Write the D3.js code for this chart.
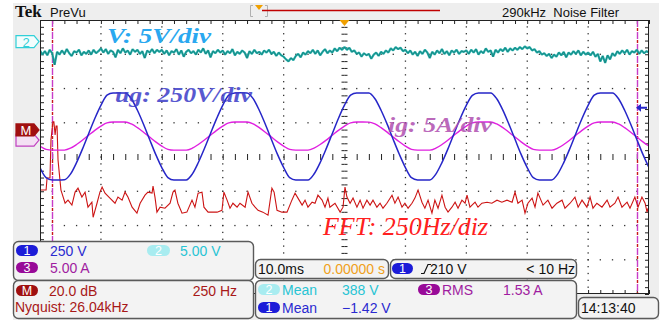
<!DOCTYPE html>
<html><head><meta charset="utf-8">
<script src="https://cdn.jsdelivr.net/npm/d3@7"></script>
<style>
html,body{margin:0;padding:0;background:#fff;}
svg{display:block;}
</style></head><body>
<svg id="scope" width="669" height="323"></svg>
<script>
// ---- acquisition settings ----
const timePerDivMs = 10;
const fftHzPerDiv = 250;
const ch1VoltsPerDiv = 250, ch2VoltsPerDiv = 5, ch3AmpsPerDiv = 5, mathDbPerDiv = 20;
const ch1Position = 0.6, ch2Position = 3.37, ch3Position = 0.61, mathPosition = 0.79; // divisions above centre
const ch1TriggerLevel = 210; // V
const sampleMs = 1;        // ch1 / ch3 record spacing
const ch2SampleMs = 0.4;   // ch2 record spacing

// ch1 grid voltage ug (V), one sample per ms
const ch1Volts = [
  -227,-301,-318,-318,-316,-275,-191,-89,22,131,227,301,318,318,318,275,191,89,-22,-131,
  -227,-300,-318,-318,-318,-275,-190,-88,22,130,227,301,318,319,318,276,191,89,-22,-131,
  -226,-301,-318,-318,-318,-274,-191,-89,21,131,228,301,318,318,317,275,191,90,-22,-130,
  -227,-301,-317,-318,-318,-275,-191,-89,22,131,227,300,318,318,318,275,192,89,-21,-131,
  -227,-301,-318,-318,-318,-275,-191,-89,22,131,227,301,318,318,318,275,191,89,-22,-131,
  -227
];
// ch3 grid current ig (A), one sample per ms
const ch3Amps = [
  -1.46,-1.94,-2.05,-2.05,-2.04,-1.77,-1.23,-0.57,0.14,0.84,1.46,1.94,2.05,2.05,2.05,1.77,1.23,0.57,-0.14,-0.84,
  -1.46,-1.93,-2.05,-2.05,-2.05,-1.77,-1.22,-0.57,0.14,0.84,1.46,1.94,2.05,2.06,2.05,1.78,1.23,0.57,-0.14,-0.84,
  -1.45,-1.94,-2.05,-2.05,-2.05,-1.76,-1.23,-0.58,0.13,0.84,1.47,1.94,2.05,2.05,2.04,1.77,1.23,0.58,-0.14,-0.83,
  -1.46,-1.94,-2.04,-2.05,-2.05,-1.77,-1.23,-0.57,0.14,0.84,1.46,1.93,2.05,2.05,2.05,1.77,1.24,0.57,-0.13,-0.84,
  -1.46,-1.94,-2.05,-2.05,-2.05,-1.77,-1.23,-0.57,0.14,0.84,1.46,1.94,2.05,2.05,2.05,1.77,1.23,0.57,-0.14,-0.84,
  -1.46
];
// ch2 voltage V (V), one sample per 0.4 ms
const ch2Volts = [
  -1.3,-1.9,-1.4,-2.0,-1.2,-1.7,-3.4,-1.5,-1.9,-1.3,-1.8,-1.1,-1.7,-2.1,-1.4,-1.6,-1.2,-2.0,-1.5,-1.8,-1.3,-1.9,-1.2,-1.7,-1.4,
  -1.0,-1.6,-1.1,-1.8,-1.3,-1.5,-2.3,-1.2,-1.7,-1.0,-1.6,-1.3,-1.9,-1.1,-1.5,-1.2,-1.8,-1.4,-2.4,-1.3,-1.6,-1.1,-1.7,-1.2,-1.5,
  -1.2,-1.8,-1.3,-2.0,-1.4,-1.6,-1.1,-1.9,-1.3,-2.2,-1.5,-1.2,-1.7,-1.4,-1.9,-1.2,-1.6,-1.0,-1.8,-1.3,-2.3,-1.4,-1.7,-1.2,-1.6,
  -1.3,-1.9,-1.4,-1.7,-1.1,-2.0,-1.5,-1.8,-1.3,-1.6,-2.4,-1.4,-1.8,-1.2,-1.7,-1.5,-1.9,-1.3,-1.6,-1.2,-1.8,-1.5,-2.1,-1.6,-2.0,
  -2.2,-2.6,-2.9,-2.4,-2.7,-2.1,-1.8,-2.3,-1.6,-1.9,-1.4,-1.7,-1.2,-1.8,-1.3,-2.0,-1.5,-1.1,-1.7,-1.3,-1.6,-1.0,-1.4,-0.9,-1.2,
  -0.8,-1.2,-0.9,-1.5,-1.3,-1.8,-1.6,-2.2,-1.7,-2.0,-1.8,-2.5,-1.9,-1.6,-2.1,-1.5,-1.8,-1.3,-1.6,-1.0,-1.3,-0.8,-1.1,-0.9,-1.4,
  -1.2,-1.7,-1.3,-1.9,-1.5,-2.1,-1.4,-1.8,-1.2,-1.6,-2.4,-1.5,-1.9,-1.3,-1.7,-1.1,-1.8,-1.4,-2.0,-1.3,-1.6,-1.2,-1.8,-1.4,-1.5,
  -1.3,-1.8,-1.2,-1.6,-1.1,-1.9,-1.4,-1.7,-1.0,-1.5,-1.3,-2.2,-1.2,-1.6,-1.1,-1.4,-0.9,-1.5,-1.0,-1.3,-0.9,-1.2,-0.8,-1.1,-0.7,
  -1.0,-0.8,-1.3,-1.1,-1.6,-1.4,-1.9,-1.7,-2.1,-1.8,-2.4,-1.9,-2.2,-1.6,-2.0,-1.5,-2.3,-1.6,-1.9,-1.4,-1.8,-1.3,-2.0,-1.5,-1.9,
  -1.6,-2.0,-1.5,-2.2,-1.8,-2.9,-2.1,-3.1,-2.0,-2.6,-1.7,-2.1,-1.4,-1.8,-1.3,-1.7,-1.2,-1.9,-1.4,-1.6,-1.2,-1.8,-1.3,-1.7,-1.4,-1.6
];
// math FFT of ig: frequency (Hz) and level (dB)
const fftHz = [4,25,29,41,45,53,57,62,66,70,74,82,86,90,103,115,131,144,156,172,185,197,213,218,234,246,255,267,287,308,320,337,349,361,378,398,411,431,443,460,464,472,480,493,513,534,546,554,566,583,603,624,636,649,665,673,690,727,747,755,768,780,792,809,821,842,854,870,883,895,915,936,952,961,973,993,1014,1034,1047,1059,1076,1088,1100,1117,1129,1141,1158,1170,1182,1190,1211,1232,1244,1252,1260,1273,1285,1301,1314,1326,1342,1355,1367,1383,1396,1408,1424,1445,1457,1470,1486,1498,1511,1527,1539,1552,1568,1580,1593,1609,1621,1634,1650,1663,1675,1691,1704,1716,1732,1745,1753,1765,1786,1798,1814,1835,1855,1876,1896,1917,1938,1950,1962,1979,1991,2003,2020,2032,2044,2065,2085,2102,2122,2143,2155,2176,2196,2209,2225,2245,2258,2270,2286,2307,2328,2340,2360,2373,2389,2410,2422,2442,2455,2471,2484,2492,2496];
const fftDb = [-35.1,-35.1,-28.1,-28.1,-5.9,4.7,4.7,-2.9,2.3,2.3,-17.6,-29.3,-35.1,-36.9,-42.8,-41.0,-43.9,-36.3,-34.0,-39.2,-36.3,-45.1,-42.2,-51.0,-42.8,-36.3,-33.4,-36.9,-39.8,-42.8,-39.2,-41.0,-36.3,-39.2,-45.1,-48.6,-42.8,-38.1,-36.3,-36.9,-32.8,-39.2,-48.0,-45.1,-45.7,-42.8,-36.3,-35.1,-42.8,-48.6,-48.0,-41.0,-45.1,-36.9,-36.3,-45.1,-48.0,-48.0,-46.9,-36.3,-41.0,-45.7,-42.8,-45.1,-42.8,-45.1,-36.3,-42.8,-45.1,-46.9,-48.0,-49.8,-34.0,-36.3,-46.9,-48.0,-48.0,-41.0,-36.9,-39.8,-43.9,-41.0,-45.1,-42.2,-42.8,-38.1,-41.0,-45.1,-39.8,-45.1,-42.8,-48.0,-45.1,-33.4,-39.2,-42.8,-39.8,-45.1,-41.0,-45.7,-41.0,-43.9,-41.0,-45.1,-42.8,-45.7,-42.8,-38.1,-42.8,-39.2,-45.1,-42.8,-45.7,-42.8,-39.8,-35.1,-42.2,-45.7,-41.0,-48.6,-41.0,-45.7,-38.1,-45.1,-48.0,-45.1,-42.2,-45.7,-41.0,-42.8,-38.1,-45.1,-42.2,-45.1,-42.8,-42.2,-42.8,-41.0,-42.2,-41.0,-42.2,-36.3,-42.8,-41.0,-48.6,-42.8,-39.8,-45.1,-36.9,-43.9,-41.0,-45.7,-42.8,-41.0,-45.7,-42.8,-39.2,-45.1,-41.0,-45.1,-39.2,-45.7,-42.8,-45.1,-41.0,-45.1,-42.8,-39.2,-45.1,-42.2,-45.7,-39.2,-45.1,-39.2,-42.8,-48.0,-45.7];
// cursor positions (Hz)
const cursorHz = [50, 2450];

// ---- layout ----
const svg = d3.select("#scope");
const G = {x0: 40, x1: 649, y0: 20, y1: 294};
const xDiv = d3.scaleLinear().domain([0, 10]).range([G.x0, G.x1]);
const yDiv = d3.scaleLinear().domain([-4, 4]).range([G.y1, G.y0]);
const xTime = d3.scaleLinear().domain([0, 10 * timePerDivMs]).range([G.x0, G.x1]);
const xFreq = d3.scaleLinear().domain([0, 10 * fftHzPerDiv]).range([G.x0, G.x1]);

const NARROW = "'Liberation Sans Narrow','Arial Narrow','Liberation Sans',sans-serif";

// instrument panel
svg.append("rect").attr("x", 13).attr("y", 3).attr("width", 646).attr("height", 317).attr("fill", "#eeeeee");

// top status bar
svg.append("text").attr("x", 15).attr("y", 17).attr("font-family", "'Liberation Serif',serif")
  .attr("font-weight", "bold").attr("font-size", 17).attr("fill", "#111").text("Tek");
svg.append("text").attr("x", 50).attr("y", 17).attr("font-family", NARROW)
  .attr("font-size", 13).attr("fill", "#111").text("PreVu");
svg.append("path").attr("d", "M253,5.5 H250.5 V16.5 H253 M265,5.5 H267.5 V16.5 H265")
  .attr("fill", "none").attr("stroke", "#b0b0b0").attr("stroke-width", 1);
svg.append("line").attr("x1", 262).attr("x2", 440).attr("y1", 10.5).attr("y2", 10.5)
  .attr("stroke", "#c00000").attr("stroke-width", 1.5);
svg.append("path").attr("d", "M255,5 L263,5 L259,10 Z").attr("fill", "#f0a000");
svg.append("text").attr("x", 502).attr("y", 17).attr("font-family", NARROW)
  .attr("font-size", 13).attr("fill", "#111").attr("xml:space", "preserve").text("290kHz  Noise Filter");

// graticule
const grat = svg.append("g");
grat.append("rect").attr("x", G.x0).attr("y", G.y0).attr("width", G.x1 - G.x0).attr("height", G.y1 - G.y0)
  .attr("fill", "#ffffff");
const minorX = d3.range(0, 10.001, 0.2), minorY = d3.range(-4, 4.001, 0.2);
const dotColor = "#333";
// dotted major lines
for (let i = 1; i < 10; i++) {
  if (i === 5) continue;
  grat.append("g").selectAll("rect").data(minorY.slice(1, -1)).join("rect")
    .attr("x", xDiv(i) - 0.6).attr("y", d => yDiv(d) - 0.6).attr("width", 1.3).attr("height", 1.3).attr("fill", dotColor);
}
for (let j = -3; j <= 3; j++) {
  if (j === 0) continue;
  grat.append("g").selectAll("rect").data(minorX.slice(1, -1)).join("rect")
    .attr("x", d => xDiv(d) - 0.6).attr("y", yDiv(j) - 0.6).attr("width", 1.3).attr("height", 1.3).attr("fill", dotColor);
}
// edge and centre ticks via axes
function ticksAxis(axis, tx, ty, vals, size) {
  const g = grat.append("g").attr("transform", `translate(${tx},${ty})`)
    .call(axis.tickValues(vals).tickSize(size).tickFormat(""));
  g.select(".domain").remove();
  g.selectAll("line").attr("stroke", "#222");
}
ticksAxis(d3.axisBottom(xDiv), 0, G.y0, minorX, 4);
ticksAxis(d3.axisTop(xDiv), 0, G.y1, minorX, 4);
ticksAxis(d3.axisRight(yDiv), G.x0, 0, minorY, 4);
ticksAxis(d3.axisLeft(yDiv), G.x1, 0, minorY, 4);
ticksAxis(d3.axisBottom(xDiv), 0, yDiv(0), minorX, 3);
ticksAxis(d3.axisTop(xDiv), 0, yDiv(0), minorX, 3);
ticksAxis(d3.axisRight(yDiv), xDiv(5), 0, minorY, 3);
ticksAxis(d3.axisLeft(yDiv), xDiv(5), 0, minorY, 3);
grat.append("rect").attr("x", G.x0 + 0.5).attr("y", G.y0 + 0.5).attr("width", G.x1 - G.x0 - 1).attr("height", G.y1 - G.y0 - 1)
  .attr("fill", "none").attr("stroke", "#222").attr("stroke-width", 1);

// clip for waveforms
svg.append("defs").append("clipPath").attr("id", "gclip").append("rect")
  .attr("x", G.x0 + 1).attr("y", G.y0 + 1).attr("width", G.x1 - G.x0 - 2).attr("height", G.y1 - G.y0 - 2);
const wave = svg.append("g").attr("clip-path", "url(#gclip)");

// FFT cursors
cursorHz.forEach(hz => {
  const x = Math.round(xFreq(hz)) + 0.5;
  wave.append("line").attr("x1", x).attr("x2", x).attr("y1", G.y0).attr("y2", G.y1)
    .attr("stroke", "#c83cc8").attr("stroke-width", 1.4).attr("stroke-dasharray", "7 5");
  wave.append("line").attr("x1", x).attr("x2", x).attr("y1", G.y0).attr("y2", G.y1)
    .attr("stroke", "#c81818").attr("stroke-width", 1.4).attr("stroke-dasharray", "3 9").attr("stroke-dashoffset", -8);
});

// ch2 trace: bright band with a darker core
const ch2Line = d3.line().x((d, i) => xTime(i * ch2SampleMs)).y(d => yDiv(ch2Position + d / ch2VoltsPerDiv));
wave.append("path").datum(ch2Volts).attr("d", ch2Line)
  .attr("fill", "none").attr("stroke", "#26b0ac").attr("stroke-width", 2.2).attr("stroke-linejoin", "bevel");
wave.append("path").datum(ch2Volts).attr("d", ch2Line)
  .attr("fill", "none").attr("stroke", "#0f6e6a").attr("stroke-width", 0.8).attr("opacity", 0.75);

// FFT trace
wave.append("path").datum(d3.zip(fftHz, fftDb))
  .attr("d", d3.line().x(d => xFreq(d[0])).y(d => yDiv(mathPosition + d[1] / mathDbPerDiv)))
  .attr("fill", "none").attr("stroke", "#cc1414").attr("stroke-width", 1.1);

// ch3 trace
wave.append("path").datum(ch3Amps)
  .attr("d", d3.line().curve(d3.curveMonotoneX).x((d, i) => xTime(i * sampleMs)).y(d => yDiv(ch3Position + d / ch3AmpsPerDiv)))
  .attr("fill", "none").attr("stroke", "#e020e0").attr("stroke-width", 1.4);

// ch1 trace
wave.append("path").datum(ch1Volts)
  .attr("d", d3.line().curve(d3.curveMonotoneX).x((d, i) => xTime(i * sampleMs)).y(d => yDiv(ch1Position + d / ch1VoltsPerDiv)))
  .attr("fill", "none").attr("stroke", "#2626c8").attr("stroke-width", 1.5);

// annotations
const SERIF = "'Liberation Serif','Times New Roman',serif";
function note(txt, x, y, size, color, weight, len, op) {
  svg.append("text").attr("x", x).attr("y", y).attr("font-family", SERIF).attr("font-style", "italic")
    .attr("font-weight", weight).attr("font-size", size).attr("fill", color).attr("opacity", op)
    .attr("textLength", len).attr("lengthAdjust", "spacingAndGlyphs").text(txt);
}
note("V: 5V/div", 107, 43, 22, "#2aa8f0", "bold", 104, 1);
note("ug: 250V/div", 115, 102, 22, "#3c3cc8", "bold", 137, 0.85);
note("ig: 5A/div", 388, 132, 22, "#b050b0", "bold", 104, 0.85);
note("FFT: 250Hz/diz", 323, 235, 25, "#ff2020", "normal", 165, 1);

// channel markers
function marker(y, fill, stroke, label, labelColor) {
  const x0 = 16, x1 = 39;
  svg.append("path").attr("d", `M${x0},${y - 6} H${x1 - 5} L${x1},${y} L${x1 - 5},${y + 6} H${x0} Z`)
    .attr("fill", fill).attr("stroke", stroke).attr("stroke-width", 1.2);
  if (label) {
    svg.append("text").attr("x", x0 + 10).attr("y", y + 5).attr("text-anchor", "middle")
      .attr("font-family", NARROW).attr("font-size", 13).attr("fill", labelColor).text(label);
  }
}
marker(yDiv(ch3Position) + 4, "#f4e0f4", "#c040c0", null, null);
marker(yDiv(mathPosition), "#a01010", "#a01010", "M", "#ffffff");
marker(yDiv(ch2Position), "#f2fdfd", "#30d0d8", "2", "#30d0d8");

// trigger markers
svg.append("path").attr("d", `M${xDiv(5) - 5},${G.y0} L${xDiv(5) + 5},${G.y0} L${xDiv(5)},${G.y0 + 6} Z`).attr("fill", "#f0a000");
const ty = yDiv(ch1Position + ch1TriggerLevel / ch1VoltsPerDiv);
svg.append("path").attr("d", `M636,${ty} L641,${ty - 4} L641,${ty - 1} L647,${ty - 1} L647,${ty + 1} L641,${ty + 1} L641,${ty + 4} Z`)
  .attr("fill", "#2626c8");

// readout boxes
function box(x, y, w, h) {
  svg.append("rect").attr("x", x + 0.5).attr("y", y + 0.5).attr("width", w).attr("height", h).attr("rx", 5)
    .attr("fill", "#f3f3f3").attr("stroke", "#5a5a5a").attr("stroke-width", 1.4);
}
function pill(x, y, w, fill, label) {
  svg.append("rect").attr("x", x).attr("y", y).attr("width", w).attr("height", 11).attr("rx", 5.5).attr("fill", fill);
  svg.append("text").attr("x", x + w / 2).attr("y", y + 10).attr("text-anchor", "middle")
    .attr("font-family", NARROW).attr("font-size", 12.5).attr("fill", "#fff").text(label);
}
function txt(s, x, y, color, anchor) {
  svg.append("text").attr("x", x).attr("y", y).attr("text-anchor", anchor || "start")
    .attr("font-family", NARROW).attr("font-size", 14).attr("fill", color).text(s);
}
box(13, 241, 240, 39);
box(13, 280, 240, 38);
box(255, 259, 133, 19);
box(390, 259, 186, 19);
box(255, 280, 321, 38);
box(578, 297, 80, 21);

const C1 = "#2a2ad0", C2 = "#28c4d4", C3 = "#a01ca0", CM = "#a81818";
pill(16, 245, 22, "#1c1cd8", "1"); txt(ch1VoltsPerDiv + " V", 50, 256, C1);
pill(147, 245, 23, "#a8ecf0", "2"); txt(ch2VoltsPerDiv.toFixed(2) + " V", 180, 256, C2);
pill(16, 262, 22, "#980a98", "3"); txt(ch3AmpsPerDiv.toFixed(2) + " A", 50, 273, C3);
pill(16, 285, 22, "#a01010", "M"); txt(mathDbPerDiv.toFixed(1) + " dB", 49, 296, CM);
txt(fftHzPerDiv + " Hz", 237, 296, CM, "end");
txt("Nyquist: 26.04kHz", 15, 312, CM);
txt(timePerDivMs.toFixed(1) + "ms", 258, 274, "#111");
txt("0.00000 s", 385, 274, "#f0a020", "end");
pill(392, 263, 21, "#1c1cd8", "1");
svg.append("path").attr("d", "M421,273.5 H424 L428,264.5 H431").attr("fill", "none").attr("stroke", "#111").attr("stroke-width", 1.2);
txt(ch1TriggerLevel + " V", 430, 274, "#111");
txt("< 10 Hz", 575, 274, "#111", "end");
pill(258, 284, 22, "#a8ecf0", "2"); txt("Mean", 282, 295, C2); txt("388 V", 342, 295, C2);
pill(418, 284, 22, "#980a98", "3"); txt("RMS", 442, 295, C3); txt("1.53 A", 503, 295, C3);
pill(258, 302, 22, "#1c1cd8", "1"); txt("Mean", 282, 313, C1); txt("\u22121.42 V", 342, 313, C1);
txt("14:13:40", 581, 313, "#111");
</script>
</body></html>
